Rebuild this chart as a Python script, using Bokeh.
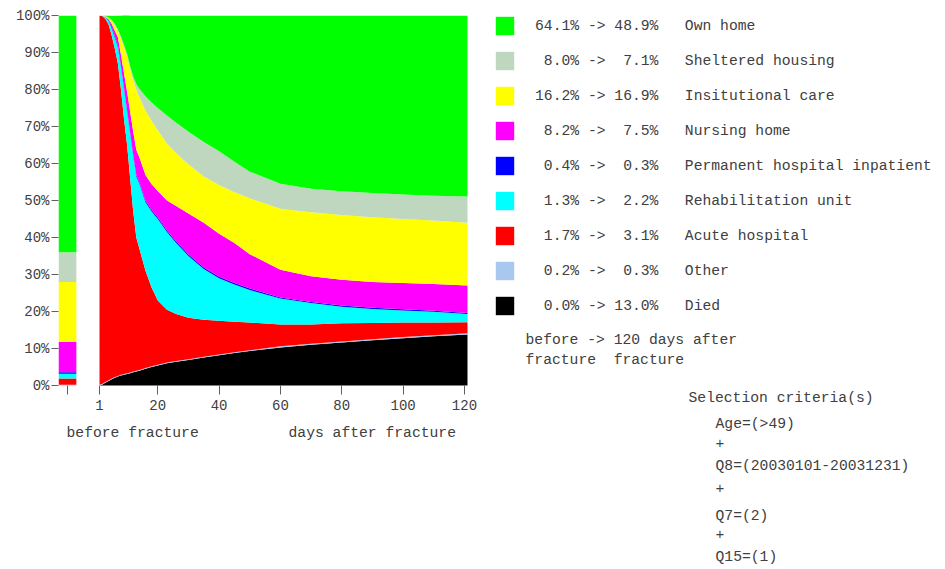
import re
from bokeh.plotting import figure
from bokeh.models import (ColumnDataSource, Range1d, FixedTicker, PrintfTickFormatter,
                          Legend, LegendItem, Label)
from bokeh.embed import file_html
from bokeh.resources import INLINE

# ---------------- data (percent of patients) ----------------
days = [1, 2, 3, 4, 5, 6, 7, 8, 9, 10, 11, 12, 13, 14, 16, 18, 20, 23, 26, 30,
        35, 40, 45, 50, 60, 70, 80, 90, 100, 110, 121]

died = [0.0, 0.3, 0.8, 1.2, 1.7, 2.1, 2.4, 2.7, 2.9, 3.1, 3.3, 3.6, 3.8, 4.0, 4.5, 5.0,
        5.4, 6.0, 6.4, 6.9, 7.6, 8.2, 8.8, 9.3, 10.3, 11.0, 11.6, 12.2, 12.8, 13.3, 13.8]
other = [0.2, 0.2, 0.2, 0.2, 0.2, 0.2, 0.2, 0.2, 0.2, 0.2, 0.2, 0.2, 0.2, 0.2, 0.2, 0.2,
         0.2, 0.2, 0.2, 0.2, 0.2, 0.2, 0.2, 0.2, 0.3, 0.3, 0.3, 0.3, 0.3, 0.3, 0.3]
acute = [99.8, 99.3, 98.0, 96.1, 92.6, 88.7, 84.4, 77.1, 68.9, 61.7, 52.5, 43.2, 36.0, 32.8,
         26.3, 21.3, 17.4, 14.3, 12.7, 11.2, 10.0, 9.1, 8.2, 7.5, 5.9, 5.2, 4.9, 4.4, 3.9, 3.4, 3.0]
rehab = [0.0, 0.1, 0.5, 1.0, 2.0, 3.0, 4.5, 6.0, 8.0, 9.0, 12.0, 15.0, 16.5, 17.5, 18.5, 20.5,
         22.0, 21.0, 19.2, 16.7, 13.7, 11.5, 10.1, 8.8, 7.0, 5.8, 4.5, 3.8, 3.3, 2.9, 2.2]
perm_hosp = [0.0, 0.0, 0.1, 0.2, 0.4, 0.4, 0.4, 0.4, 0.4, 0.4, 0.4, 0.4, 0.4, 0.4, 0.4, 0.4,
             0.4, 0.4, 0.4, 0.4, 0.4, 0.4, 0.4, 0.4, 0.3, 0.3, 0.3, 0.3, 0.3, 0.3, 0.3]
nursing = [0.0, 0.0, 0.0, 0.3, 0.8, 1.5, 2.2, 3.0, 4.0, 5.0, 5.6, 6.2, 6.8, 6.8, 7.0, 7.0,
           7.2, 8.1, 9.6, 11.1, 12.1, 11.6, 10.8, 9.3, 7.5, 6.9, 7.0, 7.0, 7.1, 7.2, 7.4]
institutional = [0.0, 0.0, 0.1, 0.3, 0.8, 1.4, 1.7, 4.4, 7.1, 9.6, 11.5, 13.9, 16.3, 16.3,
                 17.4, 17.1, 16.4, 15.4, 14.3, 13.3, 12.5, 13.2, 13.7, 15.1, 16.5, 17.3,
                 17.5, 17.5, 17.3, 17.2, 17.0]
sheltered = [0.0, 0.1, 0.1, 0.2, 0.3, 0.4, 0.5, 0.5, 0.5, 0.6, 0.8, 1.0, 1.5, 2.2, 3.9, 5.0,
             6.0, 7.6, 8.2, 8.8, 9.3, 9.1, 8.3, 7.2, 6.7, 6.4, 6.4, 6.5, 6.6, 6.7, 7.1]
own_home = [0.0, 0.0, 0.2, 0.5, 1.1, 2.2, 3.7, 5.7, 8.2, 10.7, 13.7, 16.5, 18.5, 19.8, 21.8,
            23.5, 25.0, 27.0, 29.0, 31.4, 34.2, 36.7, 39.5, 42.2, 45.5, 46.8, 47.5, 48.0,
            48.4, 48.7, 48.9]

# legend order (top to bottom)
categories = ["Own home", "Sheltered housing", "Insitutional care", "Nursing home",
              "Permanent hospital inpatient", "Rehabilitation unit", "Acute hospital",
              "Other", "Died"]
keys = ["own_home", "sheltered", "institutional", "nursing", "perm_hosp", "rehab",
        "acute", "other", "died"]
before_pct = [64.1, 8.0, 16.2, 8.2, 0.4, 1.3, 1.7, 0.2, 0.0]
after_pct = [48.9, 7.1, 16.9, 7.5, 0.3, 2.2, 3.1, 0.3, 13.0]
colors = ["#00ff00", "#bfd6bf", "#ffff00", "#ff00ff", "#0000ff", "#00ffff",
          "#ff0000", "#a8c8f0", "#000000"]

x_ticks = [1, 20, 40, 60, 80, 100, 120]
y_ticks = [0, 10, 20, 30, 40, 50, 60, 70, 80, 90, 100]
criteria = ["Age=(>49)", "+", "Q8=(20030101-20031231)", "+", "Q7=(2)", "+", "Q15=(1)"]

# ---------------- layout constants ----------------
FONT = "Liberation Mono"
TXT = "#404040"
BAR_X = -9.5      # position of the 'before fracture' bar on the day axis
BAR_W = 5.9
FRAME_W, FRAME_H = 880, 549
PX_PER_DAY = 409 / 133.37
PX_PER_PCT = 3.7
X0 = -12.37
Y0 = -(564 - 385) / PX_PER_PCT

area_src = ColumnDataSource(dict(day=days, died=died, other=other, acute=acute, rehab=rehab,
                                 perm_hosp=perm_hosp, nursing=nursing,
                                 institutional=institutional, sheltered=sheltered,
                                 own_home=own_home))
bar_src = ColumnDataSource(dict(x=[BAR_X], **{k: [v] for k, v in zip(keys, before_pct)}))

p = figure(frame_width=FRAME_W, frame_height=FRAME_H, min_border_left=58, min_border_right=2,
           min_border_top=15, min_border_bottom=2,
           x_range=Range1d(X0, X0 + FRAME_W / PX_PER_DAY),
           y_range=Range1d(Y0, 100),
           output_backend="svg", toolbar_location=None)

stack_keys = keys[::-1]       # bottom to top
stack_colors = colors[::-1]
area_renderers = p.varea_stack(stackers=stack_keys, x="day", color=stack_colors, source=area_src)
p.vbar_stack(stackers=stack_keys, x="x", width=BAR_W, color=stack_colors,
             line_color=None, source=bar_src)

# axes
p.xaxis.fixed_location = 0
p.xaxis.ticker = FixedTicker(ticks=[BAR_X] + x_ticks, minor_ticks=[])
p.xaxis.major_label_overrides = {BAR_X: ""}
p.yaxis.ticker = FixedTicker(ticks=y_ticks, minor_ticks=[])
p.yaxis.formatter = PrintfTickFormatter(format="%d%%")
for ax in (p.xaxis[0], p.yaxis[0]):
    ax.axis_line_color = None
    ax.major_tick_line_color = "#606060"
    ax.major_tick_line_width = 1
    ax.major_tick_in = 0
    ax.minor_tick_line_color = None
    ax.major_label_text_font = FONT
    ax.major_label_text_color = TXT
p.xaxis.major_tick_out = 9
p.xaxis.major_label_standoff = 5
p.xaxis.major_label_text_font_size = "14px"
p.yaxis.major_tick_out = 7
p.yaxis.major_label_standoff = 2
p.yaxis.major_label_text_font_size = "14px"
p.xgrid.grid_line_color = None
p.ygrid.grid_line_color = None
p.outline_line_color = None
p.background_fill_color = "white"
p.border_fill_color = "white"


def keep_spaces(s):
    s = re.sub(r"^ +", lambda m: "\u00a0" * len(m.group()), s)
    return re.sub(r" {2,}", lambda m: "\u00a0" * (len(m.group()) - 1) + " ", s)


rend_by_key = dict(zip(stack_keys, area_renderers))
items = []
for k, name, b, a in zip(keys, categories, before_pct, after_pct):
    label = keep_spaces(f"{b:4.1f}% -> {a:4.1f}%   {name}")
    items.append(LegendItem(label=label, renderers=[rend_by_key[k]]))

legend = Legend(items=items, location=(435, 247), orientation="vertical",
                glyph_width=23, glyph_height=23, label_height=23, spacing=12,
                label_standoff=19, padding=0, margin=0,
                border_line_color=None, background_fill_alpha=0,
                label_text_font=FONT, label_text_font_size="14.7px",
                label_text_color=TXT, click_policy="none")
p.add_layout(legend)


def add_text(txt, x, y):
    # x, y in screen pixels from the frame's bottom-left corner
    p.add_layout(Label(x=x, y=y, x_units="screen", y_units="screen", text=keep_spaces(txt),
                       text_font=FONT, text_font_size="14.7px", text_color=TXT,
                       text_baseline="middle", text_align="left"))


add_text("before fracture", 8, 132)
add_text("days after fracture", 230, 132)
add_text("before -> 120 days after", 467, 225)
add_text("fracture  fracture", 467, 205)
add_text("Selection criteria(s)", 630, 167)
crit_y = [141, 122, 99, 77, 49, 31, 8]
for t, yy in zip(criteria, crit_y):
    add_text(t, 657, yy)

open("out.html", "w").write(file_html(p, INLINE))
